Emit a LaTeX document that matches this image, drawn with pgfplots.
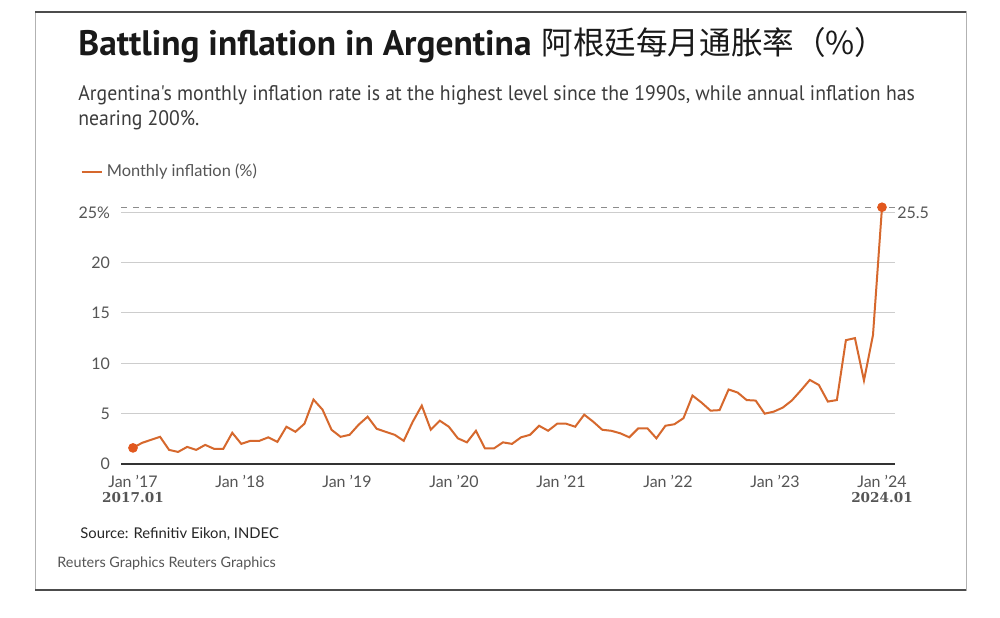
\documentclass[border=0pt]{standalone}
\usepackage{pgfplots}
\pgfplotsset{compat=1.18}
\usepackage{pgfplotstable}
\usepackage{fontspec}
\setmainfont{Lato}
\newfontfamily\titlefont{PT Sans}
\newfontfamily\subfont[FakeStretch=0.94]{PT Sans}
\newfontfamily\cjk{Noto Sans CJK SC}
\newfontfamily\numserif{DejaVu Serif}
\definecolor{lineor}{RGB}{214,104,45}
\definecolor{dotor}{RGB}{226,88,30}
\definecolor{txtgray}{RGB}{85,85,85}
\definecolor{subgray}{RGB}{60,60,60}
\definecolor{gridgray}{RGB}{205,205,205}
\definecolor{titleblack}{RGB}{25,25,25}

\pgfplotstableread{
idx val
0 1.6
1 2.1
2 2.4
3 2.7
4 1.4
5 1.2
6 1.7
7 1.4
8 1.9
9 1.5
10 1.5
11 3.1
12 2.0
13 2.3
14 2.3
15 2.65
16 2.2
17 3.7
18 3.2
19 4.0
20 6.4
21 5.4
22 3.4
23 2.7
24 2.9
25 3.9
26 4.7
27 3.5
28 3.2
29 2.9
30 2.3
31 4.2
32 5.8
33 3.4
34 4.3
35 3.7
36 2.55
37 2.15
38 3.3
39 1.55
40 1.55
41 2.15
42 2.0
43 2.65
44 2.9
45 3.8
46 3.3
47 4.0
48 4.0
49 3.7
50 4.9
51 4.2
52 3.4
53 3.3
54 3.05
55 2.65
56 3.55
57 3.55
58 2.55
59 3.8
60 3.95
61 4.55
62 6.8
63 6.1
64 5.3
65 5.35
66 7.4
67 7.1
68 6.35
69 6.3
70 5.0
71 5.2
72 5.6
73 6.3
74 7.3
75 8.35
76 7.85
77 6.2
78 6.35
79 12.3
80 12.5
81 8.3
82 12.8
83 25.5
}\infl

\begin{document}
\begin{tikzpicture}
\path[use as bounding box, fill=white] (0,0) rectangle (500pt,308.5pt);

\begin{scope}[x=0.5pt, y=-0.5pt, shift={(0pt,308.5pt)}]
  % frame
  \draw[black!30, line width=0.5pt] (35,12) rectangle (966,590);
  \draw[black!70, line width=1pt] (35,12) -- (966,12);
  \draw[black!70, line width=1pt] (35,590) -- (966,590);
  % title
  \node[anchor=base west, inner sep=0pt, text=titleblack] at (78,56)
    {\fontsize{17.7}{20}\selectfont\titlefont\bfseries Battling inflation in Argentina};
  \node[anchor=base west, inner sep=0pt, text=titleblack] at (541,55)
    {\fontsize{15.8}{18}\selectfont\cjk 阿根廷每月通胀率（\%）};
  % subtitle
  \node[anchor=base west, inner sep=0pt, text=subgray] at (78,101)
    {\fontsize{10.5}{12}\selectfont\subfont Argentina's monthly inflation rate is at the highest level since the 1990s, while annual inflation has};
  \node[anchor=base west, inner sep=0pt, text=subgray] at (78,126)
    {\fontsize{10.5}{12}\selectfont\subfont nearing 200\%.};
  % source
  \node[anchor=base west, inner sep=0pt, text=black!85] at (80,538)
    {\fontsize{7.4}{8}\selectfont Source: Refinitiv Eikon, INDEC};
  \node[anchor=base west, inner sep=0pt, text=txtgray] at (57,567)
    {\fontsize{7.2}{8}\selectfont Reuters Graphics Reuters Graphics};
\end{scope}

\begin{axis}[
  at={(60.5pt,76.5pt)}, anchor=south west,
  scale only axis, width=387pt, height=130.9pt,
  xmin=-1.33, xmax=84.44, ymin=0, ymax=26,
  axis lines=left, axis line style={-},
  y axis line style={draw=none},
  x axis line style={draw=black!80, line width=0.8pt},
  ytick={0,5,10,15,20,25}, yticklabels={0,5,10,15,20,25\%},
  ymajorgrids, grid style={gridgray, line width=0.5pt},
  major tick length=0pt,
  xtick={0,11.857,23.714,35.571,47.429,59.286,71.143,83},
  xticklabels={{Jan '17\\{\numserif\bfseries\fontsize{6.8}{7}\selectfont 2017.01}},Jan '18,Jan '19,Jan '20,Jan '21,Jan '22,Jan '23,{Jan '24\\{\numserif\bfseries\fontsize{6.8}{7}\selectfont 2024.01}}},
  /pgf/number format/assume math mode=true,
  tick label style={font=\fontsize{8}{7.8}\selectfont, text=txtgray},
  xticklabel style={align=center, anchor=north, yshift=-2pt},
  yticklabel style={anchor=east, xshift=-2pt},
  clip=false,
  legend style={at={(-0.053,1.115)}, anchor=west, draw=none, fill=none,
    font=\fontsize{8.2}{9}\selectfont, text=txtgray, inner sep=0pt,
    legend cell align=left},
  legend image code/.code={\draw[#1, line width=1.2pt] (0pt,0pt) -- (10pt,0pt);},
]
\addplot[forget plot, draw=black!45, dash pattern=on 3pt off 3pt, line width=0.6pt]
  coordinates {(-1.33,25.5) (84.44,25.5)};
\addplot[lineor, line width=1pt, mark=none] table[x=idx, y=val] {\infl};
\addlegendentry{Monthly inflation (\%)}
\addplot[forget plot, only marks, mark=*, mark size=2.2pt, dotor] coordinates {(0,1.6) (83,25.5)};
\node[anchor=west, inner sep=1pt, text=txtgray, font=\fontsize{8}{9}\selectfont] at (axis cs:84.44,25.5) [yshift=-3pt] {25.5};
\end{axis}
\end{tikzpicture}
\end{document}
